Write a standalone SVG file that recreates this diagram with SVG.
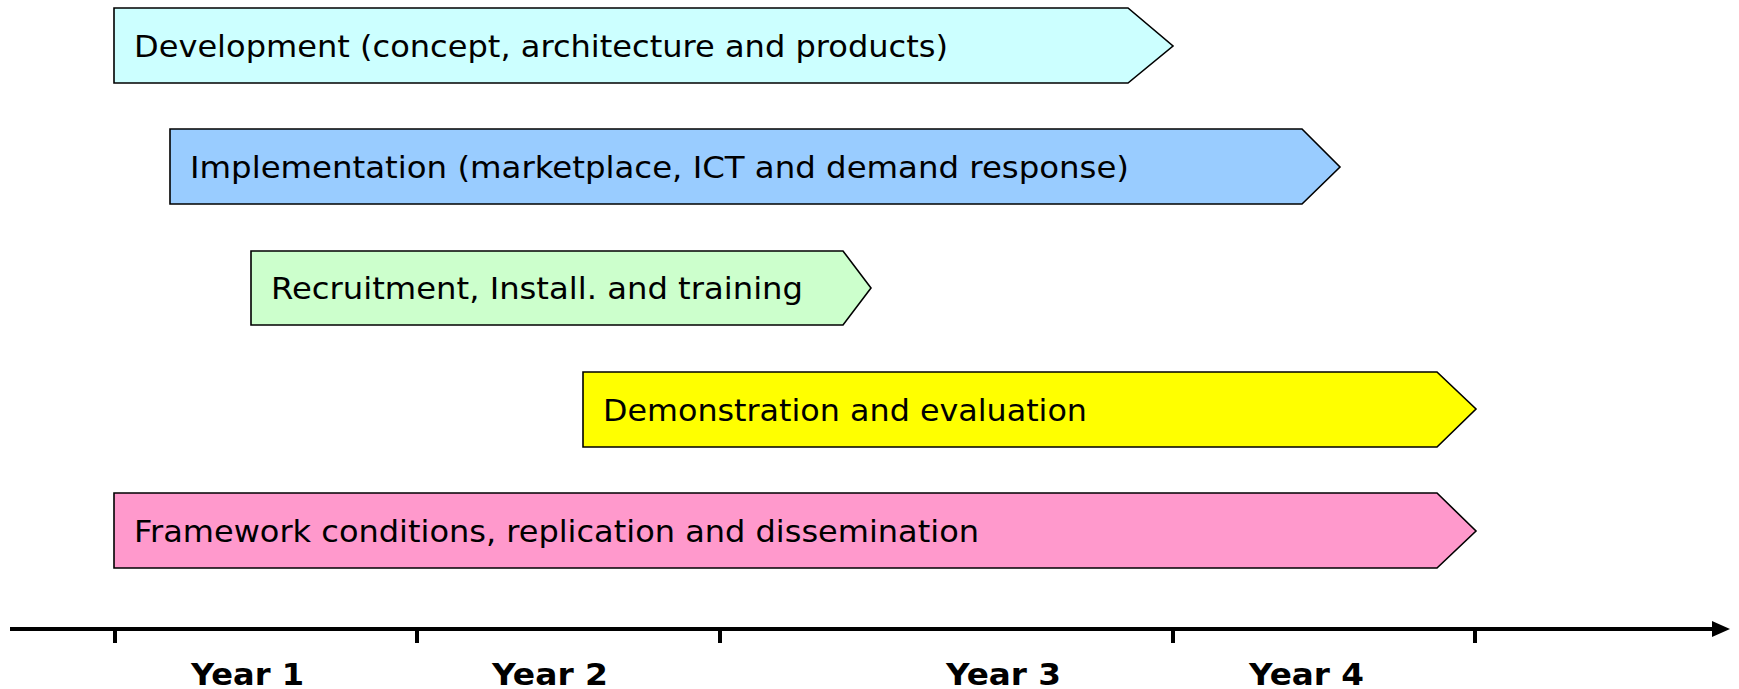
<svg xmlns="http://www.w3.org/2000/svg" width="1739" height="689" viewBox="0 0 1739 689">
<style>
.bar{stroke:#000;stroke-width:1.6;stroke-linejoin:miter}
.lbl{font-family:"DejaVu Sans",Verdana,sans-serif;font-size:31px;fill:#000}
.yr{font-family:"DejaVu Sans",Verdana,sans-serif;font-size:31px;font-weight:bold;fill:#000}
.axis{stroke:#000;stroke-width:4;fill:none}
</style>
<defs>
<marker id="ah" markerWidth="5" markerHeight="5" refX="1" refY="2.5" orient="auto" markerUnits="strokeWidth">
<path d="M0,0.5 L4.5,2.5 L0,4.5 Z" fill="#000"/>
</marker>
</defs>
<rect width="1739" height="689" fill="#fff"/>
<g id="dev">
<path class="bar" fill="#CCFFFF" d="M114,8 H1128 L1173,46 L1128,83 H114 Z"/>
<text class="lbl" x="134" y="57" textLength="814" lengthAdjust="spacingAndGlyphs">Development (concept, architecture and products)</text>
</g>
<g id="impl">
<path class="bar" fill="#99CCFF" d="M170,129 H1302 L1340,167 L1302,204 H170 Z"/>
<text class="lbl" x="190" y="178" textLength="939" lengthAdjust="spacingAndGlyphs">Implementation (marketplace, ICT and demand response)</text>
</g>
<g id="recruit">
<path class="bar" fill="#CCFFCC" d="M251,251 H843 L871,288 L843,325 H251 Z"/>
<text class="lbl" x="271" y="299" textLength="532" lengthAdjust="spacingAndGlyphs">Recruitment, Install. and training</text>
</g>
<g id="demo">
<path class="bar" fill="#FFFF00" d="M583,372 H1437 L1476,409 L1437,447 H583 Z"/>
<text class="lbl" x="603" y="421" textLength="484" lengthAdjust="spacingAndGlyphs">Demonstration and evaluation</text>
</g>
<g id="framework">
<path class="bar" fill="#FF99CC" d="M114,493 H1437 L1476,531 L1437,568 H114 Z"/>
<text class="lbl" x="134" y="542" textLength="845" lengthAdjust="spacingAndGlyphs">Framework conditions, replication and dissemination</text>
</g>
<g id="connectors">
<line class="axis" x1="10" y1="629" x2="1716" y2="629" marker-end="url(#ah)"/>
<path class="axis" d="M115,629 V643 M417,629 V643 M720,629 V643 M1173,629 V643 M1475,629 V643" stroke-width="3.5"/>
</g>
<g id="years">
<text class="yr" x="191" y="685" textLength="113" lengthAdjust="spacingAndGlyphs">Year 1</text>
<text class="yr" x="492" y="685" textLength="116" lengthAdjust="spacingAndGlyphs">Year 2</text>
<text class="yr" x="946" y="685" textLength="115" lengthAdjust="spacingAndGlyphs">Year 3</text>
<text class="yr" x="1249" y="685" textLength="115" lengthAdjust="spacingAndGlyphs">Year 4</text>
</g>
</svg>
